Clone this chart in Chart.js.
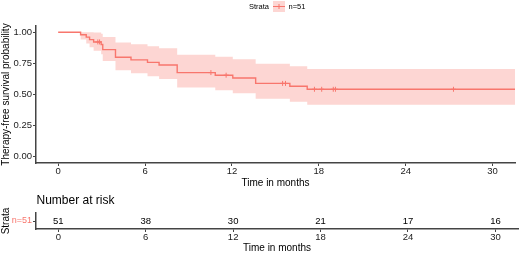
<!DOCTYPE html>
<html>
<head>
<meta charset="utf-8">
<script src="https://cdn.jsdelivr.net/npm/chart.js@4.4.1/dist/chart.umd.min.js"></script>
<style>
  html, body { margin: 0; padding: 0; background: #fff; overflow: hidden; }
  #wrap { position: relative; width: 520px; height: 253px; }
  #top { position: absolute; left: 0; top: 0; }
  #risk { position: absolute; left: 0; top: 190px; }
</style>
</head>
<body>
<div id="wrap">
  <canvas id="top" width="520" height="190"></canvas>
  <canvas id="risk" width="520" height="64"></canvas>
</div>
<script>
// ---- data ----
const stepTimes  = [0, 1.55, 1.94, 2.17, 2.45, 2.97, 3.08, 3.96, 5.03, 6.17, 6.97, 8.22, 10.85, 12.06, 13.64, 16.0, 17.2, 31.55];
const survival   = [1, 0.980, 0.961, 0.941, 0.922, 0.901, 0.860, 0.799, 0.778, 0.758, 0.737, 0.676, 0.655, 0.633, 0.589, 0.566, 0.542, 0.542];
const upperCI    = [1, 1, 1, 1, 0.998, 0.987, 0.962, 0.918, 0.903, 0.887, 0.871, 0.820, 0.803, 0.784, 0.746, 0.726, 0.705, 0.705];
const lowerCI    = [1, 0.942, 0.909, 0.879, 0.851, 0.823, 0.769, 0.694, 0.671, 0.647, 0.624, 0.557, 0.534, 0.511, 0.466, 0.441, 0.417, 0.417];
const censorTimes = [2.74, 2.86, 10.55, 11.6, 15.5, 15.7, 17.7, 18.2, 19.0, 19.15, 27.3];
const censorSurv  = [0.922, 0.922, 0.676, 0.655, 0.589, 0.589, 0.542, 0.542, 0.542, 0.542, 0.542];
const xTicks = [0, 6, 12, 18, 24, 30];
const yTicks = [0, 0.25, 0.5, 0.75, 1];
const riskTimes  = [0, 6, 12, 18, 24, 30];
const riskCounts = [51, 38, 30, 21, 17, 16];
const strataLabel = 'n=51';
const legendTitle = 'Strata';

const RED = '#F8766D';
const BAND = 'rgba(248,118,109,0.30)';
const AXIS = '#444';
const FONT = "'Liberation Sans', Arial, sans-serif";
const toXY = (xs, ys) => xs.map((x, i) => ({x: x, y: ys[i]}));

Chart.defaults.font.family = FONT;
Chart.defaults.color = '#000';
Chart.defaults.animation = false;

const legendPlugin = {
  id: 'kmLegend',
  afterDraw(chart) {
    const ctx = chart.ctx;
    ctx.save();
    ctx.font = '7.5px ' + FONT;
    ctx.fillStyle = '#000';
    ctx.textBaseline = 'middle';
    ctx.textAlign = 'left';
    ctx.fillText(legendTitle, 249, 6.5);
    ctx.fillStyle = BAND;
    ctx.fillRect(273, 1, 12, 11);
    ctx.strokeStyle = RED;
    ctx.lineWidth = 1;
    ctx.beginPath();
    ctx.moveTo(273, 6.5); ctx.lineTo(285, 6.5);
    ctx.moveTo(279, 4); ctx.lineTo(279, 9);
    ctx.stroke();
    ctx.fillStyle = '#000';
    ctx.fillText(strataLabel, 288.5, 6.5);
    ctx.restore();
  }
};

new Chart(document.getElementById('top'), {
  type: 'line',
  data: {
    datasets: [
      { data: toXY(stepTimes, upperCI), stepped: true, borderWidth: 0, pointRadius: 0, fill: false, borderColor: 'rgba(0,0,0,0)' },
      { data: toXY(stepTimes, lowerCI), stepped: true, borderWidth: 0, pointRadius: 0, fill: '-1', backgroundColor: BAND, borderColor: 'rgba(0,0,0,0)' },
      { data: toXY(stepTimes, survival), stepped: true, borderWidth: 1.4, pointRadius: 0, fill: false, borderColor: RED },
      { type: 'scatter', data: toXY(censorTimes, censorSurv), showLine: false, pointStyle: 'cross', pointRadius: 2.5, borderColor: RED, borderWidth: 1 }
    ]
  },
  options: {
    responsive: false,
    layout: { padding: { top: 26, right: 2, left: 0, bottom: 0 } },
    plugins: { legend: { display: false }, tooltip: { enabled: false } },
    scales: {
      x: {
        type: 'linear', min: -1.53, max: 31.55,
        afterBuildTicks(s) { s.ticks = xTicks.map(v => ({value: v})); },
        afterFit(s) { s.height = 27; },
        grid: { drawOnChartArea: false, drawTicks: true, tickLength: 3, color: AXIS },
        border: { display: true, color: AXIS, width: 1.5 },
        ticks: { padding: 0, font: { size: 9.5 }, color: '#222', maxRotation: 0 },
        title: { display: true, text: 'Time in months', font: { size: 10 }, padding: { top: 0, bottom: 1 }, color: '#000' }
      },
      y: {
        type: 'linear', min: -0.05, max: 1.05,
        afterBuildTicks(s) { s.ticks = yTicks.map(v => ({value: v})); },
        afterFit(s) { s.width = 36; },
        grid: { drawOnChartArea: false, drawTicks: true, tickLength: 3, color: AXIS },
        border: { display: true, color: AXIS, width: 1.5 },
        ticks: { padding: 1, font: { size: 9.5 }, color: '#222', callback: v => v.toFixed(2) },
        title: { display: true, text: 'Therapy-free survival probability', font: { size: 10 }, padding: { top: 0, bottom: 0 }, color: '#000' }
      }
    }
  },
  plugins: [legendPlugin]
});

const riskPlugin = {
  id: 'riskText',
  afterDraw(chart) {
    const ctx = chart.ctx;
    const xs = chart.scales.x, ys = chart.scales.y;
    ctx.save();
    ctx.fillStyle = '#000';
    ctx.textBaseline = 'middle';
    ctx.textAlign = 'left';
    ctx.font = '12px ' + FONT;
    ctx.fillText('Number at risk', chart.chartArea.left + 0.5, 10.7);
    ctx.font = '9.5px ' + FONT;
    ctx.textAlign = 'center';
    const yy = ys.getPixelForValue(0);
    riskTimes.forEach((t, i) => ctx.fillText(String(riskCounts[i]), xs.getPixelForValue(t), yy));
    ctx.restore();
  }
};

new Chart(document.getElementById('risk'), {
  type: 'scatter',
  data: { labels: [strataLabel], datasets: [{ data: [] }] },
  options: {
    responsive: false,
    layout: { padding: { top: 23, right: 2, left: 0, bottom: 0 } },
    plugins: { legend: { display: false }, tooltip: { enabled: false } },
    scales: {
      x: {
        type: 'linear', min: -1.53, max: 31.55,
        afterBuildTicks(s) { s.ticks = xTicks.map(v => ({value: v})); },
        afterFit(s) { s.height = 25; },
        grid: { drawOnChartArea: false, drawTicks: true, tickLength: 3, color: AXIS },
        border: { display: true, color: AXIS, width: 1.5 },
        ticks: { padding: 0, font: { size: 9.5 }, color: '#222', maxRotation: 0 },
        title: { display: true, text: 'Time in months', font: { size: 10 }, padding: { top: 0, bottom: 0 }, color: '#000' }
      },
      y: {
        type: 'category', labels: [strataLabel], offset: true,
        afterFit(s) { s.width = 36; },
        grid: { drawOnChartArea: false, drawTicks: true, tickLength: 3, color: AXIS },
        border: { display: true, color: AXIS, width: 1.5 },
        ticks: { padding: 1, font: { size: 9 }, color: RED },
        title: { display: true, text: 'Strata', font: { size: 10 }, padding: { top: 0, bottom: 0 }, color: '#000' }
      }
    }
  },
  plugins: [riskPlugin]
});
</script>
</body>
</html>
